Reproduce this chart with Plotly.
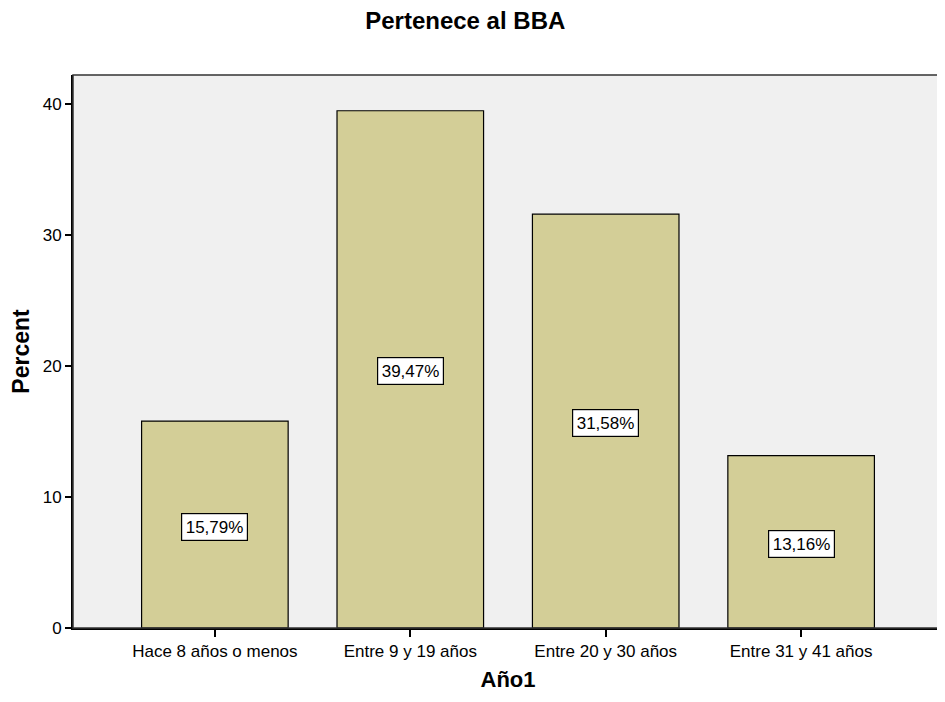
import plotly.graph_objects as go

categories = ["Hace 8 años o menos", "Entre 9 y 19 años", "Entre 20 y 30 años", "Entre 31 y 41 años"]
percents = [15.79, 39.47, 31.58, 13.16]
labels = ["15,79%", "39,47%", "31,58%", "13,16%"]
yticks = [0, 10, 20, 30, 40]

FONT = "Liberation Sans, Arial, sans-serif"

fig = go.Figure()
fig.add_trace(go.Bar(
    x=categories, y=percents, width=0.75,
    marker=dict(color="#d3ce97", line=dict(color="black", width=1.2)),
    hoverinfo="skip",
))

for c, v, t in zip(categories, percents, labels):
    fig.add_annotation(
        x=c, y=v / 2, yshift=-2, text=t, showarrow=False,
        font=dict(family=FONT, size=17, color="black"),
        bgcolor="white", bordercolor="black", borderwidth=1.2, borderpad=3.5,
    )

fig.add_shape(type="rect", xref="paper", yref="paper", x0=0, x1=1, y0=0, y1=1,
              line=dict(color="#333333", width=1.5), layer="above")

fig.update_layout(
    width=937, height=694,
    margin=dict(l=65, r=2, t=67, b=74),
    paper_bgcolor="white", plot_bgcolor="#f0f0f0",
    showlegend=False,
    title=dict(text="<b>Pertenece al BBA</b>", x=0.488, xanchor="center",
               y=0.994, yanchor="top", pad=dict(t=0),
               font=dict(family=FONT, size=24, color="black")),
    font=dict(family=FONT, size=17, color="black"),
)
fig.update_xaxes(
    type="category", range=[-0.726, 3.726],
    showline=True, linecolor="black", linewidth=2,
    ticks="outside", ticklen=7, tickwidth=2, tickcolor="black",
    showgrid=False, tickfont=dict(size=17),
    title=dict(text="<b>Año1</b>", font=dict(size=22), standoff=11),
)
fig.update_yaxes(
    range=[0, 42.2], tickvals=yticks,
    showline=True, linecolor="black", linewidth=2,
    ticks="outside", ticklen=6, tickwidth=2, tickcolor="black",
    showgrid=False, zeroline=False, tickfont=dict(size=17),
    title=dict(text="<b>Percent</b>", font=dict(size=23), standoff=12),
)

fig.write_html("out.html")
